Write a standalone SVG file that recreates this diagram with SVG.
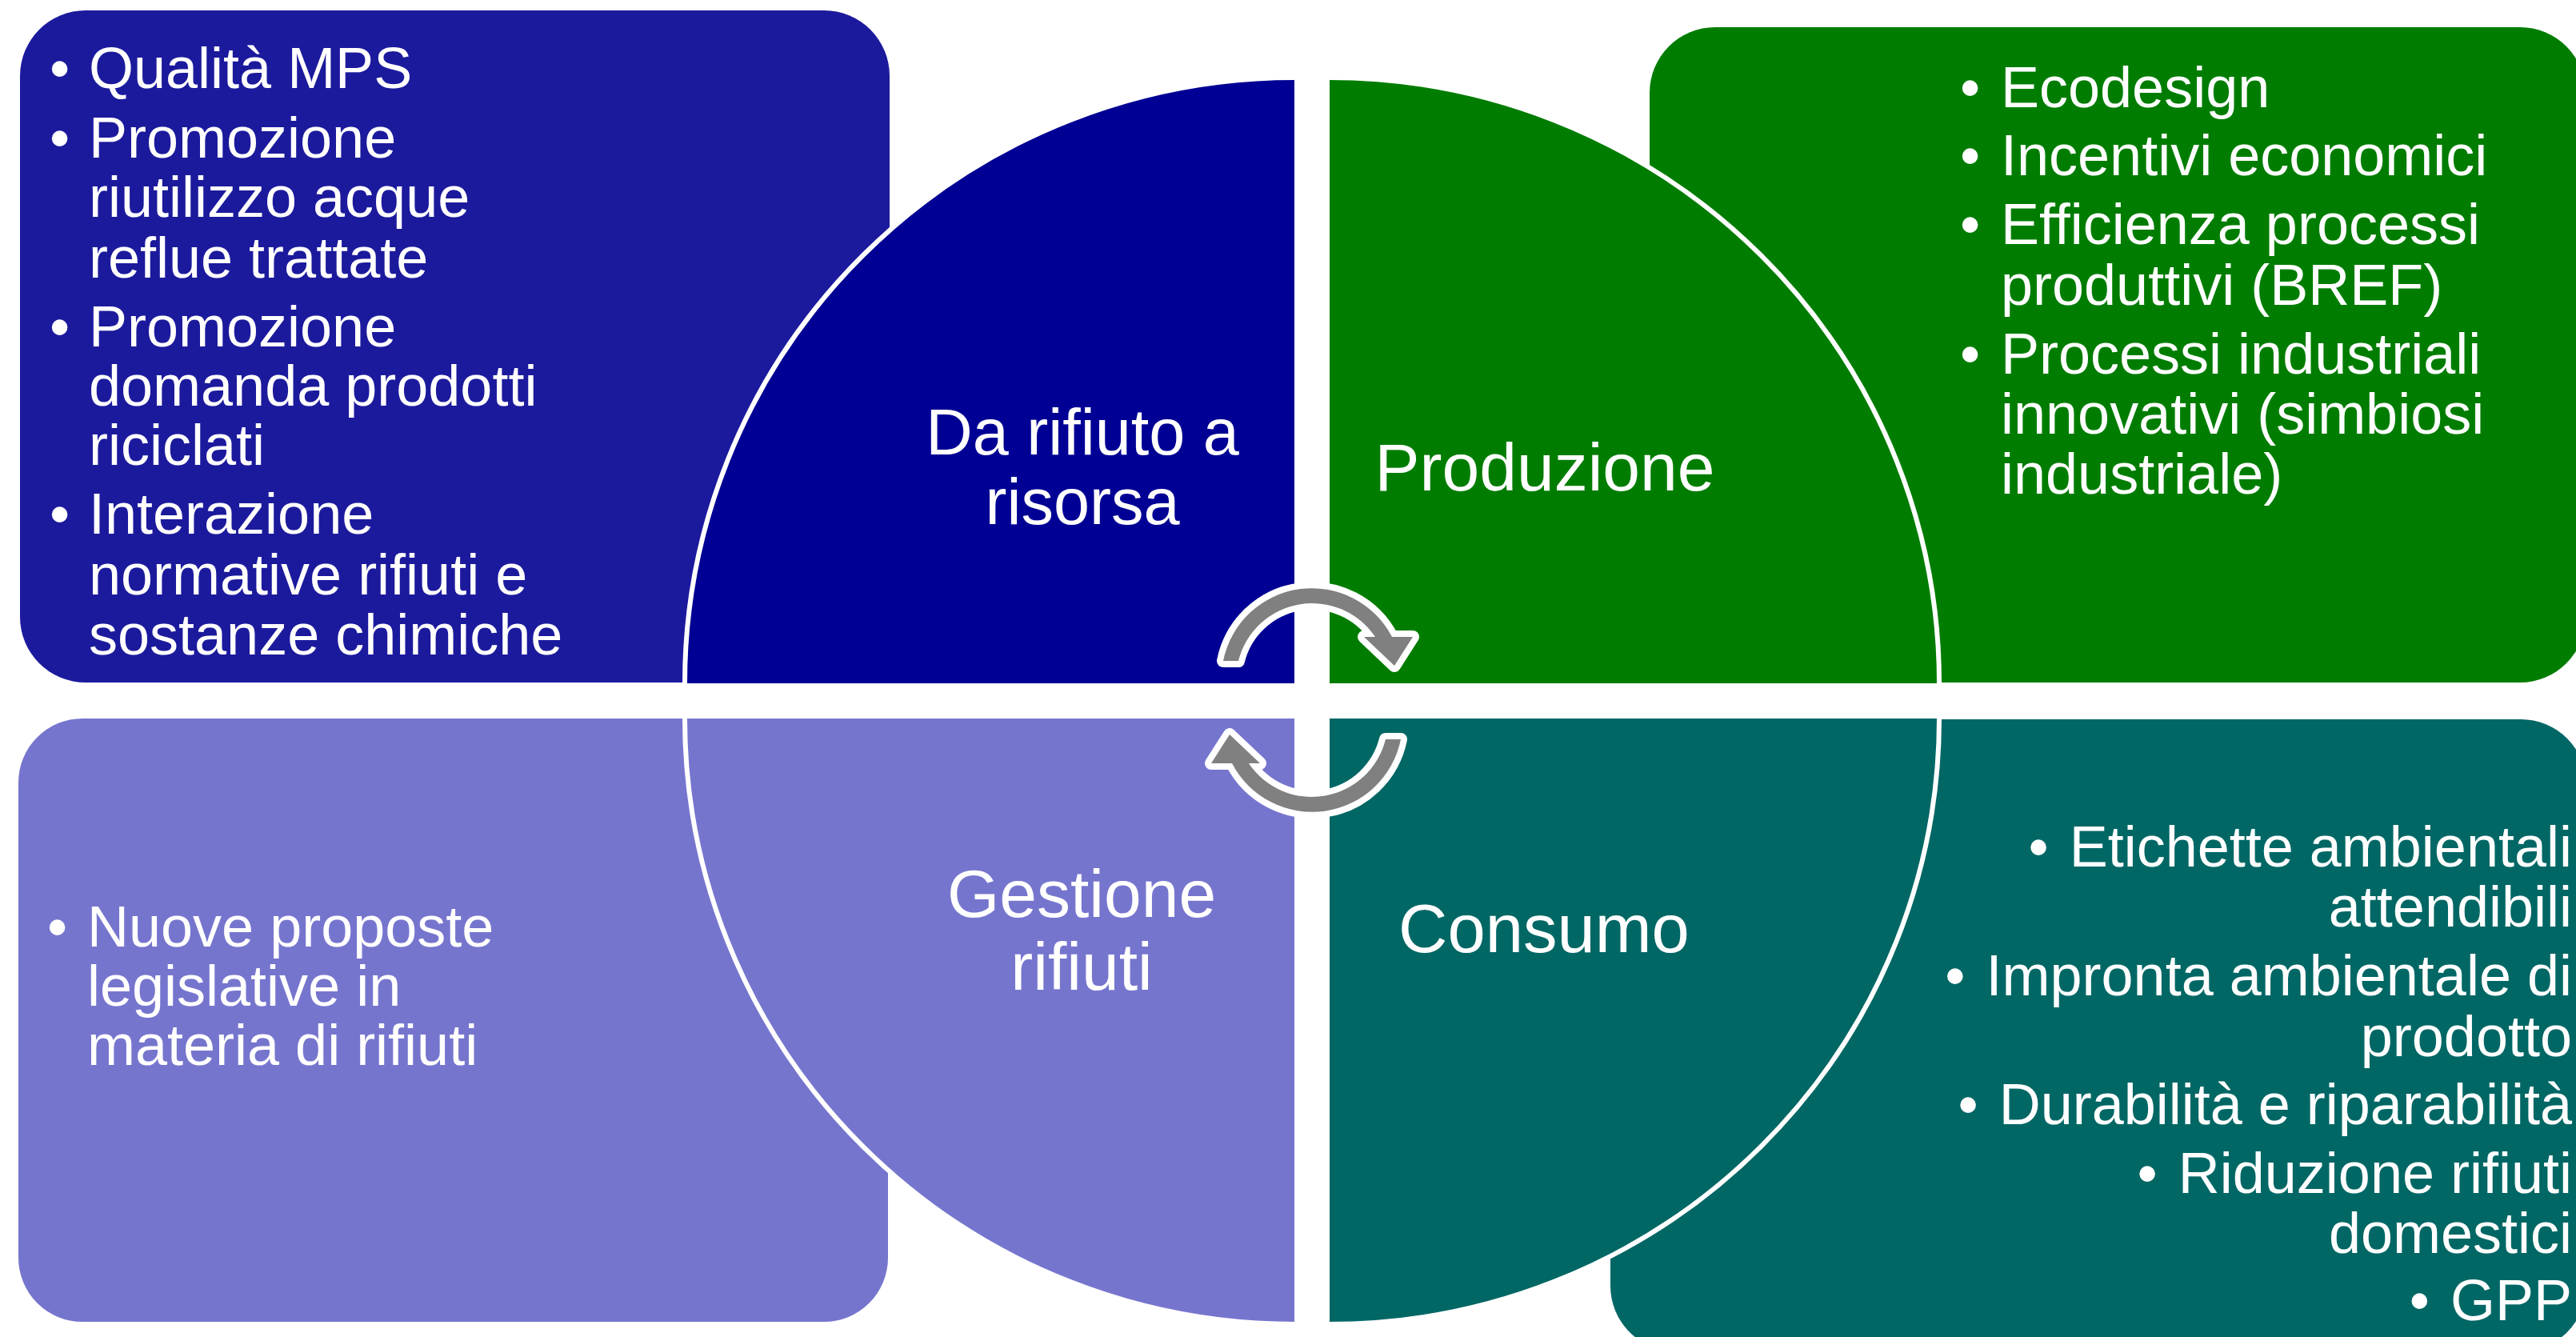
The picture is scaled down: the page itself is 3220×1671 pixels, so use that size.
<svg xmlns="http://www.w3.org/2000/svg" width="3220" height="1671" viewBox="0 0 3220 1671">
  <style>
    .t { font-family: "Liberation Sans", Arial, sans-serif; fill: #ffffff; }
    .b { font-size: 72px; }
    .lbl { text-anchor: middle; }
    .arc { fill: none; stroke: #ffffff; stroke-width: 6; }
    .arrow { fill: #808080; stroke: #ffffff; stroke-width: 16; stroke-linejoin: round; paint-order: stroke; }
  </style>
  <defs>
    <path id="cycArrow" d="M 1529 826 A 113 113 0 0 1 1740 796 L 1766 796 L 1743 832 L 1705 796 L 1719 796 A 95 95 0 0 0 1548 826 Z"/>
  </defs>
  <rect width="3220" height="1671" fill="#ffffff"/>

  <!-- Text boxes -->
  <g id="box-tl">
    <rect x="25" y="13" width="1087" height="840" rx="82" fill="#1c1a9c"/>
  </g>
  <g id="box-tr">
    <rect x="2062" y="34" width="1170" height="819" rx="82" fill="#007d00"/>
  </g>
  <g id="box-bl">
    <rect x="23" y="898" width="1087" height="754" rx="80" fill="#7675ce"/>
  </g>
  <g id="box-br">
    <rect x="2013" y="899" width="1220" height="790" rx="82" fill="#016765"/>
  </g>

  <!-- Quarter circles -->
  <g id="quarter-tl">
    <path d="M 1618 854 L 856 854 A 762 757 0 0 1 1618 97 Z" fill="#000094"/>
    <path class="arc" d="M 856 854 A 762 757 0 0 1 1618 97"/>
    <text class="t lbl" font-size="81"><tspan x="1353" y="568">Da rifiuto a</tspan><tspan x="1353" y="655">risorsa</tspan></text>
  </g>
  <g id="quarter-tr">
    <path d="M 1662 854 L 1662 97 A 762 757 0 0 1 2424 854 Z" fill="#007d00"/>
    <path class="arc" d="M 1662 97 A 762 757 0 0 1 2424 854"/>
    <text class="t lbl" font-size="84" x="1931" y="613">Produzione</text>
  </g>
  <g id="quarter-bl">
    <path d="M 1618 898 L 1618 1655 A 762 757 0 0 1 856 898 Z" fill="#7675ce"/>
    <path class="arc" d="M 1618 1655 A 762 757 0 0 1 856 898"/>
    <text class="t lbl" font-size="84"><tspan x="1352" y="1146">Gestione</tspan><tspan x="1352" y="1237">rifiuti</tspan></text>
  </g>
  <g id="quarter-br">
    <path d="M 1662 898 L 2424 898 A 762 757 0 0 1 1662 1655 Z" fill="#016765"/>
    <path class="arc" d="M 2424 898 A 762 757 0 0 1 1662 1655"/>
    <text class="t lbl" font-size="85" x="1930" y="1190">Consumo</text>
  </g>

  <!-- Connectors: cycle arrows -->
  <g id="connectors">
    <use href="#cycArrow" class="arrow"/>
    <use href="#cycArrow" class="arrow" transform="rotate(180 1640 875)"/>
  </g>

  <!-- Box texts -->
  <g id="text-tl" class="t b">
    <text x="62" y="110">•</text><text x="111" y="110">Qualità MPS</text>
    <text x="62" y="197">•</text><text x="111" y="197">Promozione</text>
    <text x="111" y="271">riutilizzo acque</text>
    <text x="111" y="347">reflue trattate</text>
    <text x="62" y="433">•</text><text x="111" y="433">Promozione</text>
    <text x="111" y="507">domanda prodotti</text>
    <text x="111" y="581">riciclati</text>
    <text x="62" y="667">•</text><text x="111" y="667">Interazione</text>
    <text x="111" y="743">normative rifiuti e</text>
    <text x="111" y="818">sostanze chimiche</text>
  </g>
  <g id="text-tr" class="t b">
    <text x="2450" y="134">•</text><text x="2501" y="134">Ecodesign</text>
    <text x="2450" y="219">•</text><text x="2501" y="219">Incentivi economici</text>
    <text x="2450" y="305">•</text><text x="2501" y="305">Efficienza processi</text>
    <text x="2501" y="381">produttivi (BREF)</text>
    <text x="2450" y="467">•</text><text x="2501" y="467">Processi industriali</text>
    <text x="2501" y="542">innovativi (simbiosi</text>
    <text x="2501" y="617">industriale)</text>
  </g>
  <g id="text-bl" class="t b">
    <text x="59" y="1183">•</text><text x="109" y="1183">Nuove proposte</text>
    <text x="109" y="1257">legislative in</text>
    <text x="109" y="1331">materia di rifiuti</text>
  </g>
  <g id="text-br" class="t b" text-anchor="end">
    <text x="3215" y="1083">•<tspan dx="26">Etichette ambientali</tspan></text>
    <text x="3215" y="1158">attendibili</text>
    <text x="3215" y="1244">•<tspan dx="26">Impronta ambientale di</tspan></text>
    <text x="3215" y="1320">prodotto</text>
    <text x="3215" y="1405">•<tspan dx="26">Durabilità e riparabilità</tspan></text>
    <text x="3215" y="1491">•<tspan dx="26">Riduzione rifiuti</tspan></text>
    <text x="3215" y="1566">domestici</text>
    <text x="3215" y="1650">•<tspan dx="26">GPP</tspan></text>
  </g>
</svg>
